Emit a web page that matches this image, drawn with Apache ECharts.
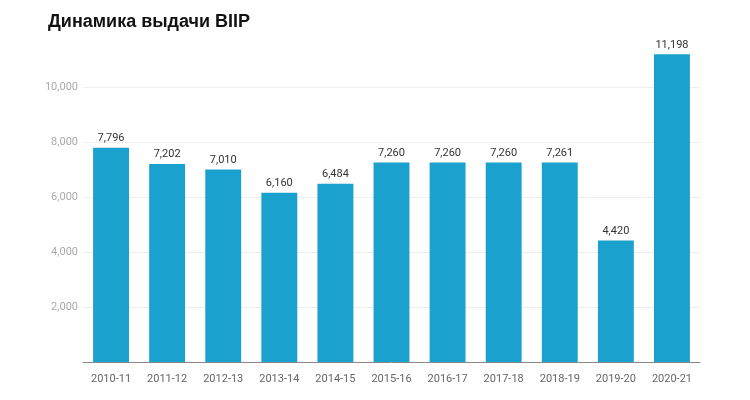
<!DOCTYPE html>
<html>
<head>
<meta charset="utf-8">
<script src="https://cdn.jsdelivr.net/npm/echarts@6/dist/echarts.min.js"></script>
<style>
  html, body { margin: 0; padding: 0; background: #fff; }
  #main { width: 750px; height: 400px; }
</style>
</head>
<body>
<div id="main"></div>
<script>
var years = ['2010-11', '2011-12', '2012-13', '2013-14', '2014-15', '2015-16', '2016-17', '2017-18', '2018-19', '2019-20', '2020-21'];
var issued = [7796, 7202, 7010, 6160, 6484, 7260, 7260, 7260, 7261, 4420, 11198];
var yTicks = [0, 2000, 4000, 6000, 8000, 10000];

var myChart = echarts.init(document.getElementById('main'));
var option = {
    animation: false,
    title: {
        text: 'Динамика выдачи BIIP',
        left: 43,
        top: 8,
        textStyle: {
            fontFamily: 'Liberation Sans',
            fontSize: 18,
            fontWeight: 'bold',
            color: '#111'
        }
    },
    grid: {
        left: 83,
        right: 50,
        top: 46,
        bottom: 38
    },
    xAxis: {
        type: 'category',
        data: years,
        axisTick: {
            alignWithLabel: true,
            lineStyle: { color: '#333' }
        },
        axisLine: {
            lineStyle: { color: '#888', width: 1 }
        },
        axisLabel: {
            color: '#666',
            fontSize: 11,
            fontFamily: 'Roboto',
            margin: 12
        }
    },
    yAxis: {
        type: 'value',
        min: yTicks[0],
        max: 11500,
        interval: 2000,
        axisLine: { show: false },
        axisTick: { show: false },
        splitLine: {
            showMaxLine: false,
            lineStyle: { color: '#eeeeee' }
        },
        axisLabel: {
            showMinLabel: false,
            showMaxLabel: false,
            color: '#aaa',
            fontSize: 11,
            fontFamily: 'Roboto',
            margin: 5,
            formatter: function (v) {
                return v.toLocaleString('en-US');
            }
        }
    },
    series: [{
        type: 'bar',
        data: issued,
        barWidth: '64%',
        itemStyle: { color: '#1ba1cd' },
        label: {
            show: true,
            position: 'top',
            distance: 4,
            color: '#333',
            fontSize: 11,
            fontFamily: 'Roboto',
            formatter: function (p) {
                return p.value.toLocaleString('en-US');
            }
        }
    }]
};
myChart.setOption(option, true);
</script>
</body>
</html>
